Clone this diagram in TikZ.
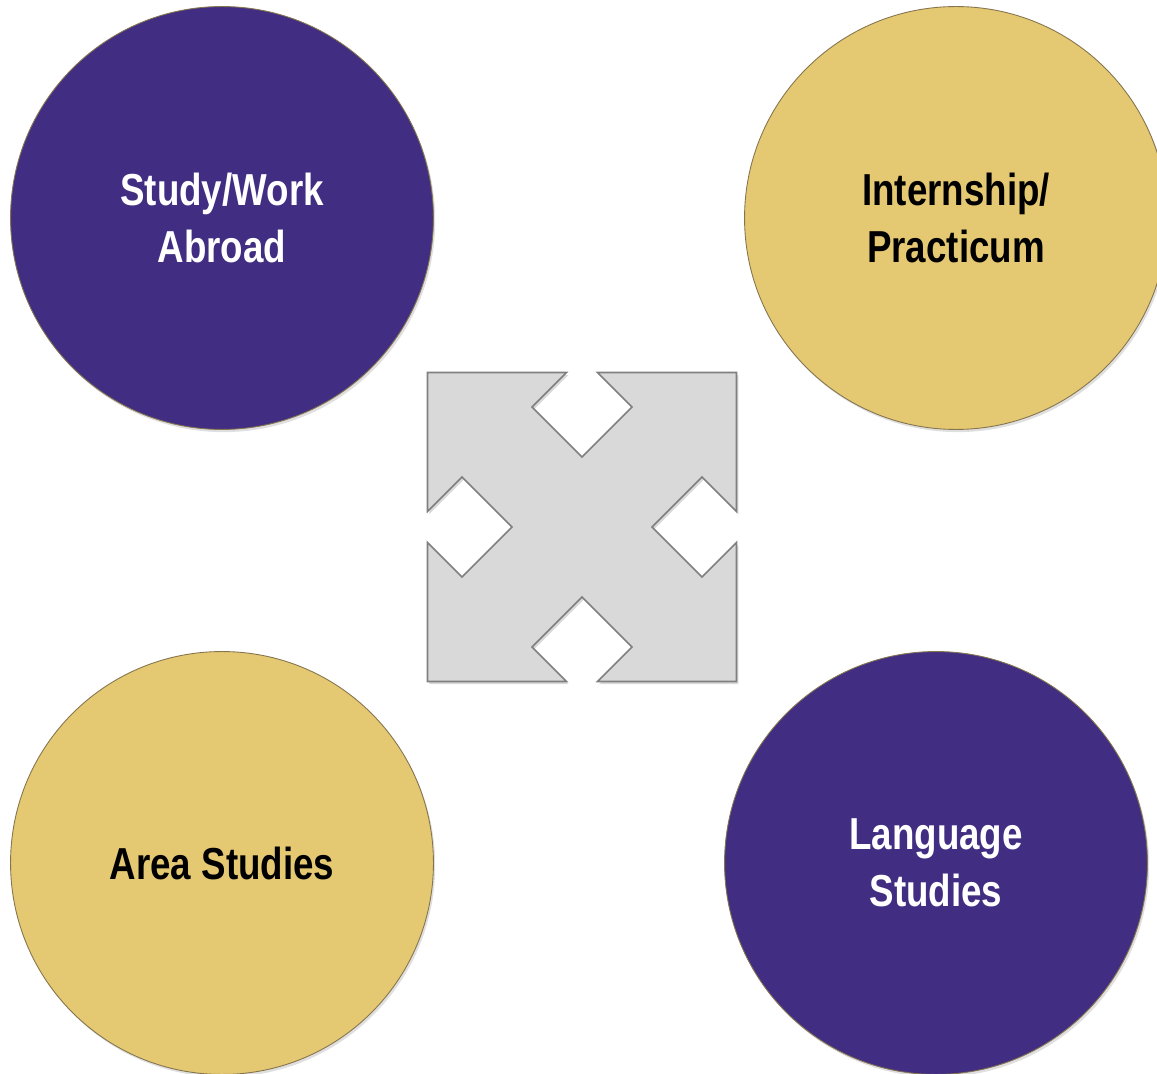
\documentclass[tikz,border=0pt]{standalone}
\usepackage{fontspec}
\setmainfont{Liberation Sans}[FakeStretch=0.82]
\usetikzlibrary{shadows}

\definecolor{uwpurple}{RGB}{65,46,130}
\definecolor{uwgold}{RGB}{229,200,114}
\definecolor{rimcol}{RGB}{133,117,78}
\definecolor{arrowfill}{RGB}{217,217,217}
\definecolor{arrowrim}{RGB}{128,128,128}

\begin{document}
\begin{tikzpicture}[x=0.02cm, y=-0.02cm]
				\tikzstyle{bubble} = [circle, draw=rimcol, line width=0.5pt, minimum size=8.46cm, inner sep=0pt, align=center, font=\bfseries\fontsize{25.5}{32.5}\selectfont, drop shadow={opacity=0.25, shadow xshift=1pt, shadow yshift=-1.5pt}]
				\tikzstyle{purple} = [bubble, fill=uwpurple, text=white]
				\tikzstyle{gold} = [bubble, fill=uwgold, text=black]
				\tikzstyle{quad} = [fill=arrowfill, draw=arrowrim, line width=0.9pt, line join=miter, drop shadow={opacity=0.3, shadow xshift=1pt, shadow yshift=-1.5pt}]
				
				\useasboundingbox (0, 0) rectangle (1157, 1074);
				
				\node[purple] 	at (222, 218) 		(abroad) 	{Study/Work\\Abroad};
				\node[gold] 	at (956, 218)		(intern) 	{Internship/\\Practicum};
				\node[gold] 	at (222, 863) 		(area) 		{Area Studies};
				\node[purple] 	at (936, 863) 		(lang) 		{Language\\Studies};
				
				% four-way arrow in the middle
				\begin{scope}[shift={(582, 527)}]
				\path[quad] (-154.5, -154.5)
				\foreach \a in {0, 90, 180, 270} {
					-- ([rotate=-\a]-15.5, -154.5) -- ([rotate=-\a]-50, -120)
					-- ([rotate=-\a]0, -70) -- ([rotate=-\a]50, -120)
					-- ([rotate=-\a]15.5, -154.5) -- ([rotate=-\a]154.5, -154.5)
				} -- cycle;
				\end{scope}
\end{tikzpicture}
\end{document}
